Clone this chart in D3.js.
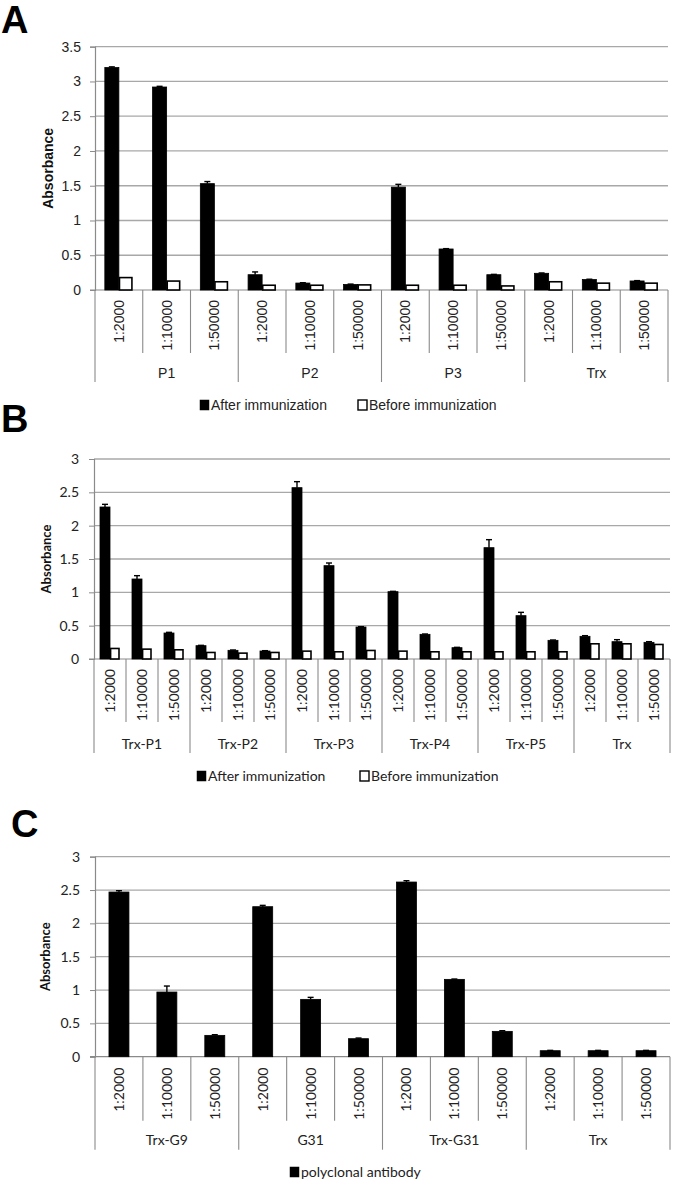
<!DOCTYPE html>
<html>
<head>
<meta charset="utf-8">
<script src="https://cdn.jsdelivr.net/npm/d3@7"></script>
<style>
  html, body { margin: 0; padding: 0; background: #fff; }
  svg { display: block; }
</style>
</head>
<body>
<svg id="chart" width="675" height="1185"></svg>
<script>
// ---------- DATA ----------
const dilutions = ["1:2000", "1:10000", "1:50000"];

const groupsA = ["P1", "P2", "P3", "Trx"];
const afterA = [3.20, 2.92, 1.53, 0.22, 0.10, 0.08, 1.48, 0.59, 0.22, 0.24, 0.15, 0.13];
const afterErrA = [0.01, 0.01, 0.03, 0.04, 0.005, 0.005, 0.04, 0.005, 0.005, 0.005, 0.005, 0.005];
const beforeA = [0.19, 0.14, 0.13, 0.08, 0.08, 0.085, 0.08, 0.08, 0.07, 0.13, 0.11, 0.11];
const ticksA = [0, 0.5, 1, 1.5, 2, 2.5, 3, 3.5];

const groupsB = ["Trx-P1", "Trx-P2", "Trx-P3", "Trx-P4", "Trx-P5", "Trx"];
const afterB = [2.28, 1.20, 0.39, 0.20, 0.13, 0.12, 2.57, 1.40, 0.48, 1.01, 0.37, 0.17, 1.67, 0.65, 0.28, 0.34, 0.26, 0.25];
const afterErrB = [0.04, 0.05, 0.01, 0.005, 0.005, 0.005, 0.09, 0.04, 0.005, 0.005, 0.005, 0.005, 0.12, 0.05, 0.005, 0.01, 0.03, 0.01];
const beforeB = [0.17, 0.16, 0.15, 0.11, 0.10, 0.11, 0.13, 0.12, 0.14, 0.13, 0.12, 0.12, 0.12, 0.12, 0.12, 0.24, 0.24, 0.23];
const ticksB = [0, 0.5, 1, 1.5, 2, 2.5, 3];

const groupsC = ["Trx-G9", "G31", "Trx-G31", "Trx"];
const polyC = [2.47, 0.97, 0.32, 2.25, 0.86, 0.27, 2.62, 1.16, 0.38, 0.09, 0.09, 0.09];
const polyErrC = [0.02, 0.09, 0.01, 0.02, 0.03, 0.01, 0.02, 0.005, 0.01, 0.005, 0.005, 0.005];
const ticksC = [0, 0.5, 1, 1.5, 2, 2.5, 3];

const seriesAB = ["After immunization", "Before immunization"];
const seriesC = ["polyclonal antibody"];

// ---------- DRAW ----------
const svg = d3.select("#chart");

function panel(cfg) {
  const g = svg.append("g");
  const n = cfg.groups.length * dilutions.length;
  const cats = d3.range(n);
  const x = d3.scaleBand().domain(cats).range([cfg.x0, cfg.x1]).padding(0);
  const y = d3.scaleLinear().domain([0, cfg.ymax]).range([cfg.y0, cfg.yTop]);
  const xs = d3.scaleBand().domain(cfg.series.map((d, i) => i)).range([0, x.bandwidth()])
    .paddingInner(0).paddingOuter(cfg.po);

  // gridlines
  g.append("g").selectAll("line").data(cfg.ticks.filter(t => t > 0)).join("line")
    .attr("x1", cfg.x0).attr("x2", cfg.x1)
    .attr("y1", d => y(d)).attr("y2", d => y(d))
    .attr("stroke", "#a8a8a8").attr("stroke-width", 1.3);

  // y axis
  const ya = g.append("g").attr("transform", `translate(${cfg.x0},0)`)
    .call(d3.axisLeft(y).tickValues(cfg.ticks).tickSize(5).tickPadding(cfg.tickPad).tickFormat(d3.format("")));
  ya.select(".domain").attr("stroke", "#8a8a8a").attr("stroke-width", 1.2);
  ya.selectAll(".tick line").attr("stroke", "#8a8a8a");
  ya.selectAll(".tick text").attr("font-family", cfg.font).attr("font-size", cfg.fs).attr("fill", "#222");

  // y title
  g.append("text")
    .attr("transform", `translate(${cfg.titleX},${(cfg.y0 + cfg.yTop) / 2}) rotate(-90)`)
    .attr("text-anchor", "middle").attr("dy", "0.35em")
    .attr("font-family", cfg.font).attr("font-weight", "bold").attr("font-size", cfg.titleFs)
    .attr("fill", "#111").text("Absorbance");

  // category axis line
  g.append("line").attr("x1", cfg.x0 - 5).attr("x2", cfg.x1)
    .attr("y1", cfg.y0).attr("y2", cfg.y0).attr("stroke", "#8a8a8a").attr("stroke-width", 1.2);

  // separators
  const bounds = d3.range(n + 1);
  g.append("g").selectAll("line").data(bounds).join("line")
    .attr("x1", i => i < n ? x(i) : cfg.x1).attr("x2", i => i < n ? x(i) : cfg.x1)
    .attr("y1", cfg.y0)
    .attr("y2", i => i % dilutions.length === 0 ? cfg.y0 + cfg.groupLen : cfg.y0 + cfg.tickLen)
    .attr("stroke", "#8a8a8a").attr("stroke-width", 1.1);

  // dilution labels
  g.append("g").selectAll("text").data(cats).join("text")
    .attr("transform", i => `translate(${x(i) + x.bandwidth() / 2 + cfg.fs * 0.36},${cfg.y0 + cfg.labOff}) rotate(-90)`)
    .attr("text-anchor", "end")
    .attr("font-family", cfg.font).attr("font-size", cfg.fs).attr("fill", "#222")
    .text(i => dilutions[i % dilutions.length]);

  // group labels
  g.append("g").selectAll("text").data(cfg.groups).join("text")
    .attr("x", (d, i) => (x(i * 3) + (i * 3 + 3 < n ? x(i * 3 + 3) : cfg.x1)) / 2)
    .attr("y", cfg.y0 + cfg.groupLabY).attr("dy", "0.35em")
    .attr("text-anchor", "middle")
    .attr("font-family", cfg.font).attr("font-size", cfg.fs).attr("fill", "#222")
    .text(d => d);

  // bars
  cfg.values.forEach((vals, si) => {
    const filled = si === 0;
    g.append("g").selectAll("rect").data(vals).join("rect")
      .attr("x", (d, i) => x(i) + xs(si) + (filled ? 0 : 0.6))
      .attr("y", d => y(d) + (filled ? 0 : 0.8))
      .attr("width", xs.bandwidth() - (filled ? 0 : 1.6))
      .attr("height", d => y(0) - y(d) - (filled ? 0 : 0.8))
      .attr("fill", filled ? "#000" : "#fff")
      .attr("stroke", "#000").attr("stroke-width", filled ? 0.8 : 1.6);
    const errs = cfg.errors[si];
    if (errs) {
      const cx = i => x(i) + xs(si) + xs.bandwidth() / 2;
      const eg = g.append("g");
      eg.selectAll("line.v").data(vals).join("line").attr("class", "v")
        .attr("x1", (d, i) => cx(i)).attr("x2", (d, i) => cx(i))
        .attr("y1", d => y(d)).attr("y2", (d, i) => y(d + errs[i]))
        .attr("stroke", "#000").attr("stroke-width", 1.4);
      eg.selectAll("line.c").data(vals).join("line").attr("class", "c")
        .attr("x1", (d, i) => cx(i) - cfg.cap).attr("x2", (d, i) => cx(i) + cfg.cap)
        .attr("y1", (d, i) => y(d + errs[i])).attr("y2", (d, i) => y(d + errs[i]))
        .attr("stroke", "#000").attr("stroke-width", 1.4);
    }
  });

  // legend
  const lg = g.append("g");
  cfg.series.forEach((s, si) => {
    const lx = cfg.legendX[si];
    lg.append("rect").attr("x", lx).attr("y", cfg.legendY - 5).attr("width", 9).attr("height", 10)
      .attr("fill", si === 0 ? "#000" : "#fff").attr("stroke", "#000").attr("stroke-width", si === 0 ? 0.5 : 1.4);
    lg.append("text").attr("x", lx + 11).attr("y", cfg.legendY).attr("dy", "0.35em")
      .attr("font-family", cfg.font).attr("font-size", cfg.fs).attr("fill", "#222").text(s);
  });

  // panel letter
  svg.append("text").attr("x", cfg.letterX).attr("y", cfg.letterY)
    .attr("font-family", "Liberation Sans, Arial, sans-serif").attr("font-weight", "bold")
    .attr("font-size", 38).attr("fill", "#000").text(cfg.letter);
}

panel({
  letter: "A", letterX: 1, letterY: 33,
  groups: groupsA, series: seriesAB, values: [afterA, beforeA], errors: [afterErrA, null],
  ticks: ticksA, ymax: 3.5, x0: 95, x1: 668, y0: 290, yTop: 46.7, po: 0.7, cap: 3,
  font: "Liberation Sans, Arial, sans-serif", fs: 14, titleFs: 14, titleX: 48, tickPad: 9,
  tickLen: 63, groupLen: 92, labOff: 10, groupLabY: 83,
  legendX: [200, 358], legendY: 405
});

panel({
  letter: "B", letterX: 1, letterY: 432,
  groups: groupsB, series: seriesAB, values: [afterB, beforeB], errors: [afterErrB, null],
  ticks: ticksB, ymax: 3, x0: 94, x1: 670, y0: 659, yTop: 459, po: 0.6, cap: 3,
  font: "Lato, sans-serif", fs: 14, titleFs: 13, titleX: 46, tickPad: 10,
  tickLen: 63, groupLen: 94, labOff: 10, groupLabY: 85,
  legendX: [197, 360], legendY: 776
});

panel({
  letter: "C", letterX: 11, letterY: 837,
  groups: groupsC, series: seriesC, values: [polyC], errors: [polyErrC],
  ticks: ticksC, ymax: 3, x0: 95, x1: 670, y0: 1056.7, yTop: 856.7, po: 0.7, cap: 3,
  font: "Lato, sans-serif", fs: 14, titleFs: 13, titleX: 45, tickPad: 10,
  tickLen: 64, groupLen: 93, labOff: 11, groupLabY: 83,
  legendX: [290], legendY: 1172
});
</script>
</body>
</html>
